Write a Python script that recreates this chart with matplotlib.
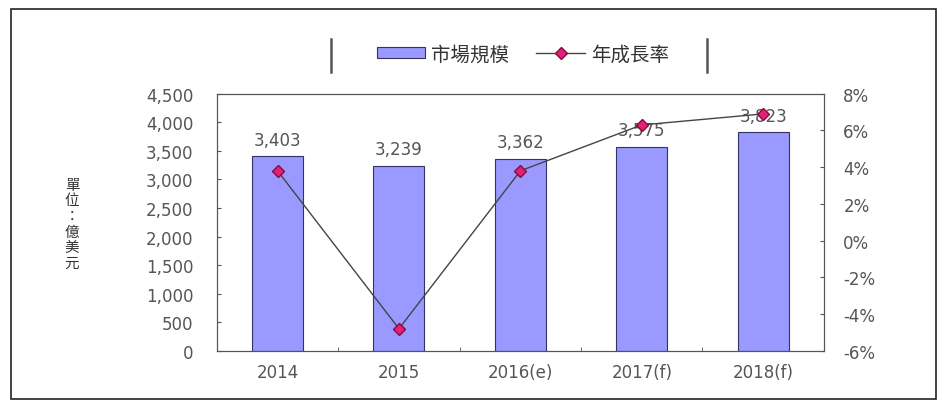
import numpy as np
import matplotlib.pyplot as plt
from matplotlib.lines import Line2D
from matplotlib.patches import Rectangle

plt.rcParams['font.family'] = ['Noto Sans CJK TC', 'DejaVu Sans']

# market size (億美元) and yearly growth rate (%)
years = ['2014', '2015', '2016(e)', '2017(f)', '2018(f)']
market_size = [3403, 3239, 3362, 3575, 3823]
growth_rate = [3.8, -4.8, 3.8, 6.3, 6.9]

fig = plt.figure(figsize=(9.47, 4.10), dpi=100)
ax = fig.add_axes([0.229, 0.142, 0.641, 0.627])
ax2 = ax.twinx()

x = np.arange(len(years))
bars = ax.bar(x, market_size, width=0.42, color='#9999ff', edgecolor='#333366', linewidth=0.8,
              label='市場規模', zorder=2)
for xi, v in zip(x, market_size):
    ax.text(xi, v + 130, f'{v:,}', ha='center', va='bottom', fontsize=12, color='#555555',
            family='DejaVu Sans', zorder=3)

ax2.plot(x, growth_rate, color='#444444', linewidth=1, marker='D', markersize=6.5,
         markerfacecolor='#e0207a', markeredgecolor='#8b0a3a', label='年成長率', zorder=3)

ax.set_xlim(-0.5, len(years) - 0.5)
ax.set_ylim(0, 4500)
ax.set_yticks(np.arange(0, 4501, 500))
ax.set_yticklabels([f'{t:,}' for t in range(0, 4501, 500)], family='DejaVu Sans')
ax2.set_ylim(-6, 8)
ax2.set_yticks(np.arange(-6, 9, 2))
ax2.set_yticklabels([f'{t}%' for t in range(-6, 9, 2)], family='DejaVu Sans')
ax.set_xticks(x)
ax.set_xticklabels(years, family='DejaVu Sans')
ax.set_xticks(np.arange(-0.5, len(years), 0.5), minor=True)

for a in (ax, ax2):
    a.tick_params(axis='both', which='both', labelsize=12, labelcolor='#555555', color='#555555',
                  length=3, direction='in')
    for s in a.spines.values():
        s.set_color('#555555')
ax.tick_params(axis='y', pad=17)
ax2.tick_params(axis='y', pad=14)
ax.tick_params(axis='x', pad=9)

# vertical unit label, one character per line
fig.text(0.076, 0.452, '\n'.join('單位：億美元'), ha='center', va='center', fontsize=10.5,
         color='#333333', linespacing=1.15)

handles = [bars, Line2D([], [], color='#444444', linewidth=1, marker='D', markersize=6.5,
                        markerfacecolor='#e0207a', markeredgecolor='#8b0a3a')]
fig.legend(handles, ['市場規模', '年成長率'], loc='center', bbox_to_anchor=(0.552, 0.866),
           ncol=2, frameon=False, fontsize=14, handlelength=2.5, handleheight=0.5,
           columnspacing=1.4, handletextpad=0.3, labelcolor='#333333')
for lx in (0.349, 0.747):
    fig.add_artist(Line2D([lx, lx], [0.822, 0.902], color='#555555', linewidth=1.8))

# outer border of the chart
fig.add_artist(Rectangle((0.012, 0.025), 0.976, 0.95, fill=False, edgecolor='#222222',
                         linewidth=1.2, transform=fig.transFigure))

fig.savefig('out.png', dpi=100)
